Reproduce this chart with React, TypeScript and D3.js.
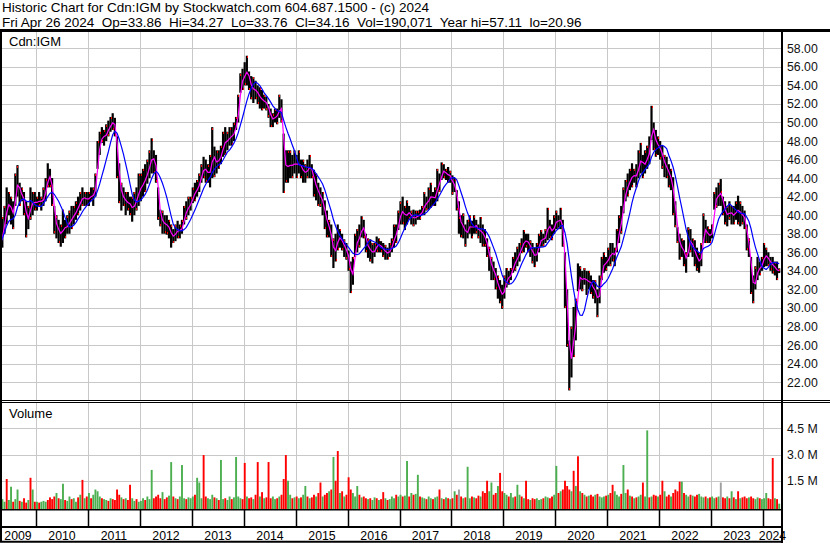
import React from 'react';
import { scaleLinear, scaleTime, line, range } from 'd3';

// semi-monthly bars, Apr 2009 .. Apr 2024
const lows = [
  // 2009
  35.2, 36.5, 38.0, 39.0, 40.0, 39.0, 38.5, 41.0, 42.0, 41.0, 41.5, 40.0, 37.6, 38.5, 39.5, 40.0, 40.5,
  // 2010
  40.5, 41.0, 40.5, 41.0, 41.5, 43.0, 43.0, 41.0, 38.0, 37.5, 37.0, 36.6, 37.0, 37.5, 38.0, 38.0, 38.5, 39.0, 39.5, 40.0, 40.5, 41.0, 41.0, 41.0,
  // 2011
  41.0, 41.5, 41.0, 42.0, 45.0, 46.5, 47.8, 47.5, 48.0, 48.5, 49.0, 49.2, 48.5, 44.0, 41.3, 40.5, 41.0, 40.0, 40.5, 40.0, 39.3, 40.0, 40.5, 41.0,
  // 2012
  41.5, 42.0, 42.5, 43.4, 44.0, 44.5, 44.5, 43.5, 39.5, 38.8, 38.0, 38.0, 37.9, 37.5, 36.5, 37.0, 37.2, 37.5, 37.5, 38.0, 39.0, 39.5, 40.0, 40.5,
  // 2013
  41.3, 41.5, 42.0, 42.5, 43.5, 44.0, 43.5, 43.5, 43.0, 44.0, 44.1, 44.5, 45.0, 45.5, 46.3, 46.5, 47.0, 47.5, 47.5, 48.0, 49.2, 50.0, 53.2, 53.5,
  // 2014
  54.0, 54.0, 53.5, 52.5, 52.1, 52.5, 52.0, 51.5, 51.3, 51.5, 51.3, 50.5, 49.5, 49.5, 50.0, 49.8, 50.5, 50.0, 42.4, 43.5, 43.5, 44.0, 44.0, 44.5,
  // 2015
  44.0, 44.5, 44.0, 43.5, 43.5, 44.0, 44.0, 44.0, 42.0, 41.6, 41.0, 40.9, 40.0, 38.5, 37.6, 37.6, 35.5, 34.3, 35.0, 36.2, 36.5, 36.2, 35.5, 35.2,
  // 2016
  34.0, 31.6, 32.5, 35.5, 36.0, 36.5, 37.6, 37.5, 36.0, 35.4, 35.0, 34.8, 35.5, 36.0, 36.0, 36.0, 35.5, 35.2, 35.2, 35.5, 36.0, 36.5, 37.0, 38.4,
  // 2017
  39.0, 39.0, 38.4, 39.0, 39.5, 39.0, 38.8, 39.0, 39.5, 39.5, 40.0, 40.0, 40.5, 40.6, 40.8, 41.0, 41.0, 41.5, 42.5, 43.8, 44.0, 43.8, 43.5, 43.5,
  // 2018
  42.2, 42.5, 40.5, 38.0, 37.6, 37.5, 36.6, 37.5, 38.0, 37.5, 38.0, 38.0, 37.5, 37.0, 36.6, 36.6, 35.5, 34.0, 33.0, 33.0, 32.0, 31.0, 30.5, 29.9,
  // 2019
  31.0, 32.2, 32.5, 33.0, 33.8, 34.0, 34.5, 35.0, 35.9, 36.0, 36.5, 36.0, 35.5, 34.8, 34.4, 35.0, 36.0, 36.6, 36.6, 37.0, 37.3, 37.5, 37.3, 38.0,
  // 2020
  38.5, 38.5, 38.5, 36.6, 30.0, 25.8, 21.1, 22.5, 24.7, 26.5, 31.8, 32.0, 31.8, 32.5, 31.4, 32.0, 31.5, 31.0, 30.5, 29.0, 30.5, 33.0, 33.8, 34.0,
  // 2021
  34.5, 34.5, 35.0, 34.5, 36.0, 37.0, 38.0, 40.2, 41.5, 42.0, 42.7, 43.0, 43.5, 43.0, 44.0, 44.5, 44.0, 44.5, 45.0, 45.5, 48.1, 47.0, 46.3, 46.5,
  // 2022
  46.0, 45.0, 44.1, 44.0, 43.0, 42.7, 40.0, 38.7, 37.0, 35.2, 35.5, 34.5, 33.8, 35.5, 36.0, 35.5, 34.5, 34.0, 33.8, 34.5, 37.0, 37.0, 37.0, 37.0,
  // 2023
  37.5, 40.6, 40.8, 41.0, 41.0, 40.0, 39.0, 38.8, 39.5, 39.0, 39.0, 39.5, 39.0, 38.8, 39.0, 38.5, 36.2, 35.5, 31.5, 30.5, 32.0, 33.0, 33.5, 34.0,
  // 2024
  34.4, 34.5, 34.5, 34.0, 33.7, 33.5, 33.0, 33.76,
];

const highs = [
  // 2009
  38.5, 39.8, 41.0, 43.0, 42.5, 42.0, 41.5, 44.5, 45.4, 43.5, 43.0, 42.5, 41.5, 41.0, 43.0, 42.5, 42.5,
  // 2010
  42.0, 42.5, 42.0, 43.0, 44.0, 45.6, 45.0, 44.0, 41.0, 40.0, 39.5, 39.0, 40.6, 39.5, 40.0, 40.5, 41.0, 41.0, 41.5, 42.0, 42.5, 43.0, 42.5, 42.5,
  // 2011
  42.5, 43.0, 43.0, 44.5, 48.0, 49.0, 49.5, 49.2, 49.8, 50.2, 50.6, 51.0, 50.5, 48.5, 45.6, 43.5, 43.0, 42.5, 42.5, 42.0, 42.0, 42.5, 43.0, 44.5,
  // 2012
  44.5, 45.0, 45.5, 46.0, 47.0, 48.3, 47.0, 46.5, 43.0, 40.6, 40.5, 40.0, 40.0, 39.5, 39.0, 38.5, 39.0, 39.4, 39.0, 39.5, 41.0, 41.5, 42.0, 42.0,
  // 2013
  43.0, 43.5, 43.8, 44.5, 45.5, 46.3, 46.0, 45.5, 46.5, 49.5, 47.4, 47.0, 47.0, 47.5, 49.0, 49.5, 49.0, 49.5, 49.5, 50.0, 50.6, 53.0, 55.3, 55.8,
  // 2014
  56.5, 57.2, 55.5, 55.0, 54.9, 54.5, 54.0, 53.8, 53.5, 53.0, 52.8, 52.0, 51.5, 51.0, 51.5, 51.5, 53.0, 52.5, 48.8, 47.0, 47.0, 47.0, 46.5, 47.0,
  // 2015
  46.5, 47.0, 46.0, 46.0, 45.5, 46.0, 46.5, 45.5, 44.9, 44.5, 43.5, 43.0, 42.5, 41.6, 40.5, 39.5, 39.0, 37.5, 38.0, 39.0, 38.5, 38.0, 37.4, 37.0,
  // 2016
  36.2, 35.0, 35.5, 38.0, 38.5, 39.0, 39.9, 39.5, 38.0, 37.5, 37.4, 37.0, 37.0, 37.7, 37.5, 37.2, 37.0, 36.8, 36.5, 37.0, 37.5, 39.0, 39.0, 40.5,
  // 2017
  41.5, 42.0, 41.0, 41.6, 41.0, 40.5, 40.6, 40.5, 40.5, 40.6, 41.0, 42.5, 42.0, 43.0, 43.5, 42.5, 43.0, 45.0, 44.5, 45.7, 45.5, 45.0, 45.2, 44.8,
  // 2018
  44.3, 44.0, 42.7, 41.5, 40.0, 40.2, 39.0, 39.5, 40.0, 39.4, 40.0, 39.5, 39.0, 39.8, 39.0, 38.5, 37.5, 36.6, 35.5, 35.0, 34.3, 33.5, 33.0, 32.5,
  // 2019
  33.5, 34.3, 34.0, 34.3, 35.5, 36.0, 36.6, 37.0, 37.5, 38.4, 38.0, 38.0, 37.3, 37.0, 36.5, 37.0, 38.0, 38.4, 38.0, 38.5, 40.8, 39.5, 39.0, 40.0,
  // 2020
  40.5, 40.0, 40.8, 39.5, 36.0, 32.0, 26.5, 28.0, 30.1, 31.0, 34.8, 34.5, 34.0, 34.3, 34.0, 34.0, 33.5, 33.0, 33.0, 32.0, 33.5, 35.5, 36.0, 35.5,
  // 2021
  36.5, 37.0, 37.0, 36.5, 38.5, 40.0, 41.0, 43.0, 43.8, 44.5, 45.0, 45.6, 45.0, 45.5, 47.0, 47.8, 46.5, 47.0, 47.5, 48.5, 51.8, 50.0, 49.2, 48.5,
  // 2022
  48.0, 47.5, 46.5, 46.3, 45.5, 45.0, 44.1, 41.5, 38.7, 38.0, 37.5, 37.3, 36.0, 38.7, 38.5, 37.5, 37.3, 36.5, 36.0, 37.0, 40.2, 39.5, 38.8, 38.5,
  // 2023
  39.0, 42.5, 43.0, 43.5, 43.9, 42.0, 41.5, 41.0, 41.5, 41.0, 41.0, 41.5, 42.1, 41.5, 41.0, 40.5, 39.0, 37.5, 35.5, 33.5, 34.5, 35.5, 35.0, 35.5,
  // 2024
  37.0, 36.5, 36.0, 35.5, 35.5, 35.0, 35.0, 34.27,
];

// volume in millions
const volumes = [
  0.35, 0.45, 0.3, 1.6, 0.4, 1.16, 0.3, 0.45, 1.0, 0.35, 0.3, 0.5, 0.25, 0.4, 1.67, 1.0, 0.3,
  0.3, 0.25, 0.3, 0.35, 0.3, 0.4, 0.55, 0.45, 0.6, 0.8, 0.5, 0.45, 1.33, 0.4, 0.35, 0.6, 0.45, 0.5, 0.3, 0.55, 0.7, 1.55, 0.5, 0.6,
  0.8, 0.5, 0.7, 1.0, 0.9, 0.6, 0.5, 0.45, 0.4, 0.35, 0.5, 0.45, 0.4, 1.0, 0.7, 0.55, 0.45, 0.5, 0.4, 1.27, 0.5, 0.35, 0.45, 0.3,
  0.35, 0.5, 0.4, 0.6, 0.45, 2.12, 0.5, 0.6, 0.7, 0.5, 0.85, 0.45, 0.55, 0.65, 2.57, 0.6, 0.5, 0.45, 0.6, 2.4, 0.5, 0.45, 0.55, 0.5,
  0.6, 0.7, 1.67, 1.4, 0.5, 2.97, 0.6, 0.5, 0.45, 0.7, 0.55, 0.5, 0.4, 2.69, 0.45, 0.5, 0.4, 0.6, 0.45, 0.55, 2.86, 0.6, 0.5, 0.45,
  2.52, 0.6, 0.5, 0.55, 0.45, 0.7, 2.57, 0.6, 0.85, 0.5, 0.55, 2.57, 0.5, 0.6, 0.45, 0.5, 0.6, 0.7, 1.6, 2.97, 1.5, 0.7, 0.5, 0.55,
  0.6, 0.5, 0.55, 0.7, 1.2, 0.6, 0.5, 0.55, 0.7, 0.6, 0.8, 1.4, 0.6, 0.7, 0.8, 0.9, 1.0, 2.86, 1.5, 3.2, 0.8, 0.9, 0.6, 0.7,
  1.7, 1.0, 0.8, 0.6, 1.2, 0.7, 0.55, 0.6, 0.5, 0.45, 0.5, 0.4, 0.55, 0.5, 0.4, 0.45, 0.85, 0.5, 0.4, 0.45, 0.6, 0.5, 0.7, 0.6,
  0.7, 0.6, 0.65, 2.63, 0.6, 0.8, 0.7, 0.75, 1.84, 0.6, 0.55, 0.5, 0.45, 0.6, 0.5, 0.45, 0.55, 0.6, 1.0, 0.5, 0.45, 0.55, 0.5, 0.45,
  0.5, 0.9, 0.7, 1.0, 0.6, 0.5, 0.55, 2.3, 0.5, 0.6, 0.55, 0.5, 0.65, 0.6, 0.9, 0.8, 1.5, 0.9, 1.4, 0.7, 0.8, 1.2, 1.95, 0.9,
  0.8, 0.7, 0.6, 0.8, 0.55, 0.6, 1.27, 0.7, 0.6, 0.5, 1.5, 0.45, 0.4, 0.5, 0.45, 0.5, 0.4, 0.45, 0.5, 0.6, 0.55, 0.5, 0.6, 0.7,
  2.35, 0.8, 0.9, 1.0, 1.5, 1.2, 1.0, 0.9, 2.07, 1.2, 2.9, 0.9, 0.8, 0.7, 0.6, 0.65, 0.7, 0.6, 0.7, 0.75, 0.6, 0.55, 0.6, 0.65,
  0.7, 0.8, 1.27, 0.9, 0.7, 0.6, 0.75, 2.4, 0.8, 1.0, 0.65, 0.6, 0.5, 0.55, 0.6, 0.7, 1.4, 0.6, 4.38, 0.55, 0.6, 0.7, 0.65, 0.6,
  0.7, 1.5, 0.9, 0.6, 0.7, 0.6, 0.8, 1.0, 0.9, 1.45, 1.45, 0.8, 0.7, 0.6, 0.7, 0.65, 0.6, 0.7, 0.75, 0.6, 0.55, 0.6, 0.5, 0.55,
  0.6, 0.5, 0.55, 0.6, 1.4, 0.55, 0.5, 0.6, 0.5, 0.9, 0.55, 0.45, 0.9, 0.5, 0.55, 0.6, 0.5, 0.55, 0.6, 0.5, 0.45, 0.55, 0.5, 0.45,
  0.5, 0.8, 0.5, 0.45, 2.8, 0.5, 0.45, 0.19,
];

// g = up, r = down, n = unchanged
const volDir =
  'gggrggrggrgrrgrgr' +
  'grgggrrrrgrggrggrggrgrgr' +
  'grggggrggrgrrrrgrgrrggrg' +
  'ggrgggrrrrgrrggrgrgggrgg' +
  'grgggrrgggrgrggrggrggggr' +
  'rgrrgrrgrgrrrggrgrrrggrg' +
  'rgrggrgrrgrrgrrgrgrrgrgr' +
  'rrgggrgrrgrggrgrrgrgggrg' +
  'grggrgrggrggrggrggrgrgrg' +
  'rgrnrgrggrgrrgrrrggrrgrr' +
  'ggrggrggrgrrgrrgggrggrrg' +
  'grgrrrrgrgrgrgrgrrgrgggr' +
  'grrgggrggrgrgrggrggrgrrg' +
  'rrgrrgrrrrgrggrgrrgggrgr' +
  'ggrgnrrgrgrgrgrrrgrrggrg' +
  'ggrrrgrg';

const priceTicks = [58, 56, 54, 52, 50, 48, 46, 44, 42, 40, 38, 36, 34, 32, 30, 28, 26, 24, 22];
const volTicks = [1.5, 3.0, 4.5];
const years = range(2009, 2025);

const header1 = 'Historic Chart for Cdn:IGM by Stockwatch.com 604.687.1500 - (c) 2024';
const header2 = 'Fri Apr 26 2024  Op=33.86  Hi=34.27  Lo=33.76  Cl=34.16  Vol=190,071  Year hi=57.11  lo=20.96';

const FONT = '"Liberation Sans", Arial, sans-serif';
const plotR = 782;
const priceTop = 32, priceBot = 400;
const volTop = 403, volBot = 509;

const start = new Date(2009, 3, 24);
const step = 15.21875 * 864e5;
const dates = lows.map((_, i) => new Date(start.getTime() + i * step));

const x = scaleTime()
  .domain([new Date(2010, 0, 1), new Date(2024, 0, 1)])
  .range([36, 763]);
const y = scaleLinear().domain([22, 58]).range([382.1, 48.3]);
const yv = scaleLinear().domain([0, 4.5]).range([507, 428.3]);

const mids = lows.map((l, i) => (l + highs[i]) / 2);
const sma = (n: number) =>
  mids.map((_, i) => {
    const s = mids.slice(Math.max(0, i - n + 1), i + 1);
    return s.reduce((a, b) => a + b, 0) / s.length;
  });
const maFast = sma(2);
const maSlow = sma(8);

const App: React.FC = () => {
  const lineGen = line<number>()
    .x((_, i) => x(dates[i]))
    .y(d => y(d));

  const yearX = years.map(yr => Math.round(x(new Date(yr, 0, 1))));
  const volColor = (c: string) => (c === 'g' ? '#4caf50' : c === 'r' ? '#ff0000' : '#a0a0a0');

  return (
    <div style={{ position: 'absolute', left: 0, top: 0 }}>
      <svg width={830} height={543} style={{ display: 'block', background: '#fff', fontFamily: FONT }}>
        <defs>
          <clipPath id="pc"><rect x={1} y={priceTop} width={plotR - 1} height={priceBot - priceTop} /></clipPath>
          <clipPath id="vc"><rect x={1} y={volTop} width={plotR - 1} height={volBot - volTop} /></clipPath>
        </defs>

        <text x={2} y={12.4} fontSize={13.5} style={{ whiteSpace: 'pre' }}>{header1}</text>
        <text x={2} y={26.8} fontSize={13.5} style={{ whiteSpace: 'pre' }}>{header2}</text>
        <rect x={0} y={29} width={830} height={3} fill="#000" />

        {/* grid */}
        {priceTicks.map(t => (
          <line key={'pg' + t} x1={0} x2={plotR} y1={Math.round(y(t)) + 0.5} y2={Math.round(y(t)) + 0.5} stroke="#c8c8c8" />
        ))}
        {volTicks.map(t => (
          <line key={'vg' + t} x1={0} x2={plotR} y1={Math.round(yv(t)) + 0.5} y2={Math.round(yv(t)) + 0.5} stroke="#c8c8c8" />
        ))}
        {yearX.slice(1).map(xx => (
          <g key={'yg' + xx}>
            <line x1={xx + 0.5} x2={xx + 0.5} y1={priceTop} y2={priceBot} stroke="#c8c8c8" />
            <line x1={xx + 0.5} x2={xx + 0.5} y1={volTop} y2={volBot} stroke="#c8c8c8" />
          </g>
        ))}

        <text x={9} y={45.7} fontSize={13}>Cdn:IGM</text>
        <text x={9} y={418} fontSize={13}>Volume</text>

        {/* price bars */}
        <g clipPath="url(#pc)">
          {lows.map((l, i) => {
            const xx = x(dates[i]);
            const yt = y(highs[i]);
            const yb = y(l);
            return <rect key={'b' + i} x={xx - 1.1} y={yt} width={2.2} height={Math.max(1, yb - yt)} fill="#000" />;
          })}
          {lows.map((l, i) => {
            const c = volDir[i];
            const v = c === 'g' ? highs[i] - 0.15 : c === 'r' ? l + 0.15 : mids[i];
            return <rect key={'t' + i} x={Math.round(x(dates[i]))} y={Math.round(y(v)) - 1} width={1} height={2} fill="#ff0000" />;
          })}
          <path d={lineGen(maFast) || ''} fill="none" stroke="#ff00ff" strokeWidth={1.2} />
          <path d={lineGen(maSlow) || ''} fill="none" stroke="#0000ff" strokeWidth={1.2} />
        </g>

        {/* volume bars */}
        <g clipPath="url(#vc)">
          {volumes.map((v, i) => (
            <rect key={'v' + i} x={x(dates[i]) - 0.9} y={yv(v)} width={1.9} height={volBot - yv(v)} fill={volColor(volDir[i])} />
          ))}
        </g>

        {/* frames */}
        <line x1={0} x2={830} y1={400.5} y2={400.5} stroke="#000" />
        <line x1={0} x2={830} y1={402.5} y2={402.5} stroke="#000" />
        <line x1={0} x2={plotR} y1={509.8} y2={509.8} stroke="#000" strokeWidth={1.5} />
        <line x1={0} x2={plotR} y1={527} y2={527} stroke="#000" strokeWidth={2} />
        <line x1={0} x2={plotR} y1={541.8} y2={541.8} stroke="#000" strokeWidth={2} />
        <line x1={1} x2={1} y1={31} y2={542} stroke="#000" strokeWidth={2} />
        <line x1={plotR} x2={plotR} y1={31} y2={543} stroke="#000" strokeWidth={2} />
        {yearX.slice(1).map(xx => (
          <line key={'ys' + xx} x1={xx + 0.5} x2={xx + 0.5} y1={510} y2={527} stroke="#000" strokeWidth={1.5} />
        ))}

        {/* right axis */}
        {priceTicks.map(t => (
          <text key={'pl' + t} x={787} y={y(t) + 4.5} fontSize={12.3} fill="#111">{t.toFixed(2)}</text>
        ))}
        {volTicks.map(t => (
          <text key={'vl' + t} x={787} y={yv(t) + 4.5} fontSize={12.3} fill="#111">{t.toFixed(1) + ' M'}</text>
        ))}

        {/* year labels */}
        {years.map((yr, k) => {
          const a = Math.max(0, yearX[k]);
          const b = k + 1 < yearX.length ? yearX[k + 1] : plotR;
          return (
            <text key={'yl' + yr} x={(a + b) / 2} y={540} fontSize={12.3} textAnchor="middle">{yr}</text>
          );
        })}
      </svg>
    </div>
  );
};

export default App;
